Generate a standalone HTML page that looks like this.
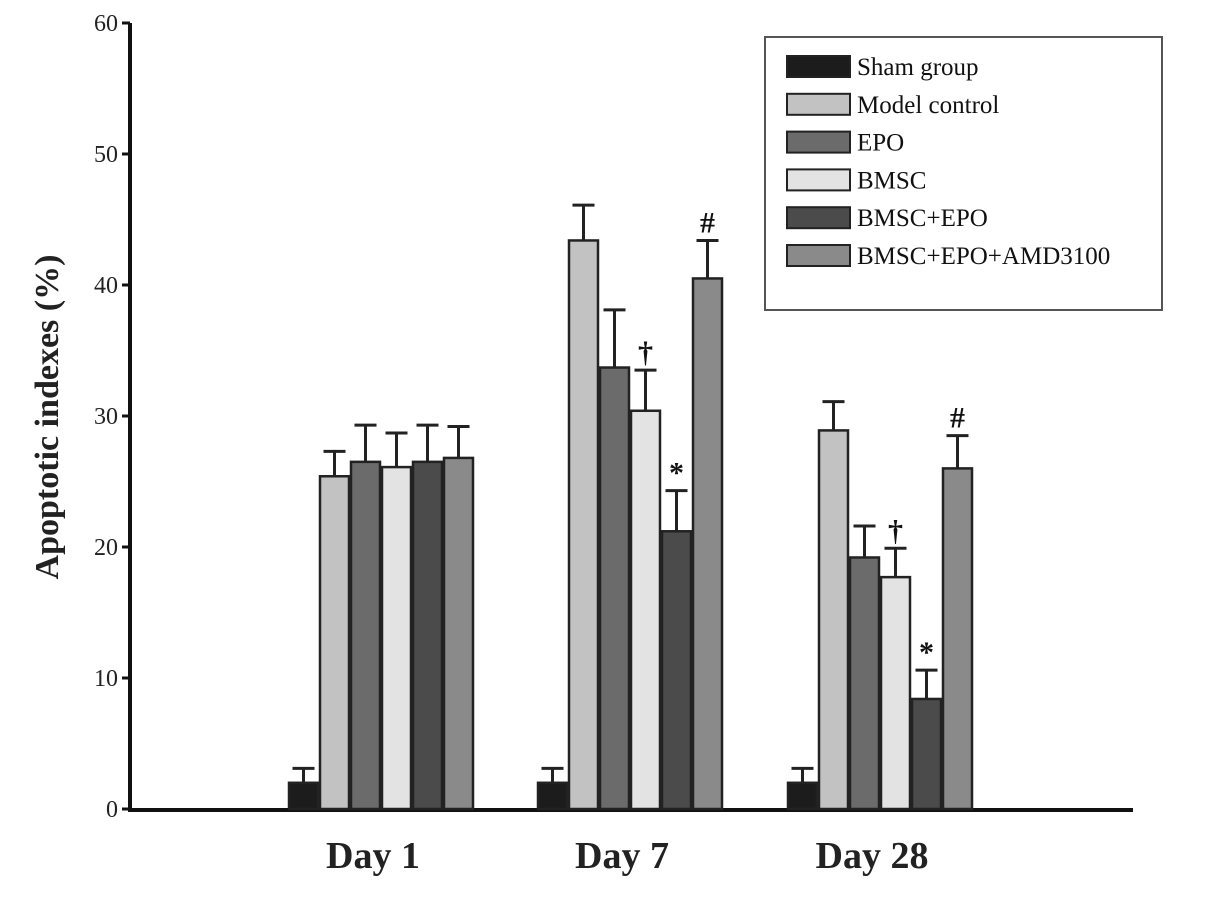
<!DOCTYPE html>
<html><head><meta charset="utf-8"><style>
html,body{margin:0;padding:0;background:#fff;}
svg{display:block;font-family:"Liberation Serif",serif;}
</style></head><body>
<svg id="chart" width="1205" height="912" viewBox="0 0 1205 912" xmlns="http://www.w3.org/2000/svg"></svg>
<script>
const categories = ["Day 1", "Day 7", "Day 28"];
const seriesNames = ["Sham group", "Model control", "EPO", "BMSC", "BMSC+EPO", "BMSC+EPO+AMD3100"];
const sham = [2, 2, 2];
const model = [25.4, 43.4, 28.9];
const epo = [26.5, 33.7, 19.2];
const bmsc = [26.1, 30.4, 17.7];
const bmscEpo = [26.5, 21.2, 8.4];
const amd = [26.8, 40.5, 26.0];
const shamErr = [1.1, 1.1, 1.1];
const modelErr = [1.9, 2.7, 2.2];
const epoErr = [2.8, 4.4, 2.4];
const bmscErr = [2.6, 3.1, 2.2];
const bmscEpoErr = [2.8, 3.1, 2.2];
const amdErr = [2.4, 2.9, 2.5];
const marks7 = ["", "", "", "†", "*", "#"];
const marks28 = ["", "", "", "†", "*", "#"];
const yTicks = [0, 10, 20, 30, 40, 50, 60];

const svg = document.getElementById('chart');
const NS = "http://www.w3.org/2000/svg";
const colors = ["#1c1c1c", "#c2c2c2", "#6b6b6b", "#e3e3e3", "#4b4b4b", "#8a8a8a"];
const values = [sham, model, epo, bmsc, bmscEpo, amd];
const errs = [shamErr, modelErr, epoErr, bmscErr, bmscEpoErr, amdErr];
const marks = [["","","","","",""], marks7, marks28];
const y0 = 809, yTop = 23, x0 = 130;
function y(v){ return y0 - v * (y0 - yTop) / 60; }
const groupStart = [288, 537, 787], barW = 31;
function x(g, s){ return groupStart[g] + s * barW; }
function el(tag, attrs, text){
  const e = document.createElementNS(NS, tag);
  for (const k in attrs) e.setAttribute(k, attrs[k]);
  if (text !== undefined) e.textContent = text;
  svg.appendChild(e);
  return e;
}
let a = el('line', {x1:x0, y1:y0+1, x2:1133, y2:y0+1, stroke:'#111', 'stroke-width':4});


a = el('line', {x1:x0, y1:y0+3, x2:x0, y2:yTop, stroke:'#111', 'stroke-width':4});


yTicks.forEach(t => {
  const tk = el('line', {x1:x0-8, y1:y(t), x2:x0, y2:y(t), stroke:'#111', 'stroke-width':3});
  
  
  const lb = el('text', {x:x0-12, y:y(t)+8, 'text-anchor':'end', 'font-size':24, fill:'#222'}, String(t));
  
  
});
const yt = el('text', {x:0, y:0, transform:'translate(58,417) rotate(-90)', 'text-anchor':'middle', 'font-size':34, 'font-weight':'bold', fill:'#222'}, 'Apoptotic indexes (%)');


categories.forEach((c, g) => {
  const lb = el('text', {x:groupStart[g] + 3*barW - 8, y:868, 'text-anchor':'middle', 'font-size':38, 'font-weight':'bold', fill:'#222'}, c);
  
  
  values.forEach((arr, s) => {
    const v = arr[g], e = errs[s][g];
    const bx = x(g, s);
    const cx = bx + barW/2;
    const er = el('line', {x1:cx, y1:y(v), x2:cx, y2:y(v+e), stroke:'#222', 'stroke-width':3});
    
    
    const cap = el('line', {x1:cx-11, y1:y(v+e), x2:cx+11, y2:y(v+e), stroke:'#222', 'stroke-width':3});
    
    
    const r = el('rect', {x:bx+1, y:y(v), width:barW-2, height:y0-y(v), fill:colors[s], stroke:'#222', 'stroke-width':2.5});
    
    
    const m = marks[g][s];
    if (m) {
      const t = el('text', {x:cx, y:y(v+e)-8, 'text-anchor':'middle', 'font-size':30, 'font-weight':'bold', fill:'#111'}, m);
      
      
    }
  });
});
const lg = el('rect', {x:765, y:37, width:397, height:273, fill:'#fff', stroke:'#555', 'stroke-width':2});


seriesNames.forEach((n, i) => {
  const cy = 66 + i*37.8;
  const sw = el('rect', {x:787, y:cy-10, width:63, height:21, fill:colors[i], stroke:'#222', 'stroke-width':2});
  
  
  const t = el('text', {x:857, y:cy+9, 'font-size':25, fill:'#111'}, n);
  
  
});
</script>
</body></html>
